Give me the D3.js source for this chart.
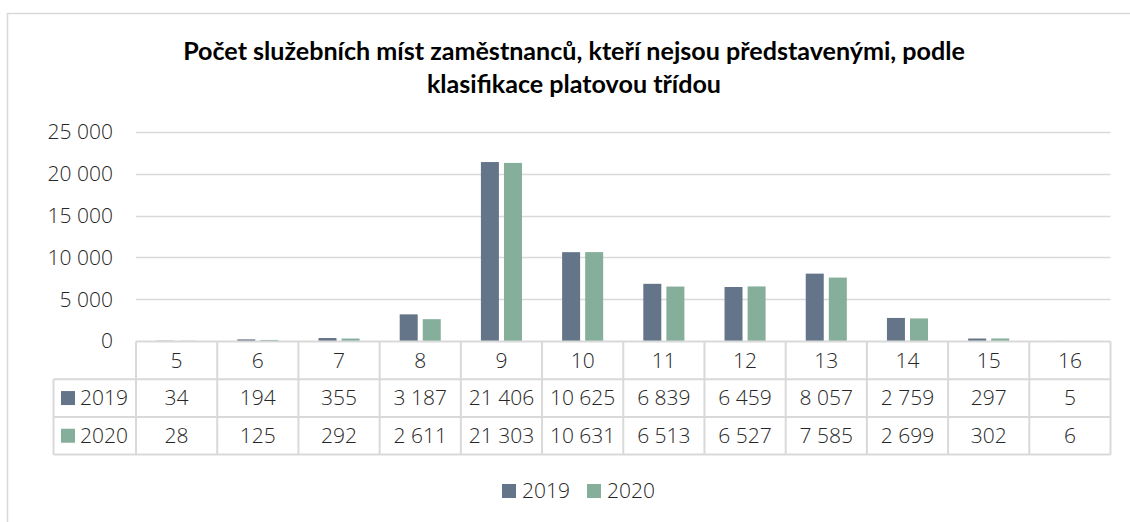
<!DOCTYPE html>
<html>
<head>
<meta charset="utf-8">
<script src="https://cdn.jsdelivr.net/npm/d3@7"></script>
<style>
  body { margin: 0; background: #fff; }
  text { font-family: "Open Sans", Lato, sans-serif; }
</style>
</head>
<body>
<div id="chart"></div>
<script>
var categories = ["5", "6", "7", "8", "9", "10", "11", "12", "13", "14", "15", "16"];
var years = ["2019", "2020"];
var values2019 = [34, 194, 355, 3187, 21406, 10625, 6839, 6459, 8057, 2759, 297, 5];
var values2020 = [28, 125, 292, 2611, 21303, 10631, 6513, 6527, 7585, 2699, 302, 6];
var yTicks = [0, 5000, 10000, 15000, 20000, 25000];
var titleLines = ["Počet služebních míst zaměstnanců, kteří nejsou představenými, podle", "klasifikace platovou třídou"];
var colors = {"2019": "#647489", "2020": "#85ae9b"};

var W = 1130, H = 522;
var labelSize = "21px", labelColor = "#262626";
var svg = d3.select("#chart").append("svg").attr("width", W).attr("height", H);

// chart frame (only top + left edges visible)
svg.append("path").attr("d", "M7.5,522 L7.5,13.5 L1130,13.5")
  .attr("fill", "none").attr("stroke", "#d9d9d9").attr("stroke-width", 1.5);

// title, sized to fit
var title = svg.append("g").attr("font-weight", "bold").attr("fill", "#000");
var t1 = title.append("text").attr("x", 574).attr("y", 60).attr("text-anchor", "middle")
  .style("font-family", "Lato, 'Open Sans', sans-serif").style("font-size", "22px").text(titleLines[0]);
var fs = 22 * 782 / t1.node().getComputedTextLength();
t1.style("font-size", fs + "px");
title.append("text").attr("x", 574).attr("y", 93).attr("text-anchor", "middle")
  .style("font-family", "Lato, 'Open Sans', sans-serif").style("font-size", fs + "px").text(titleLines[1]);

var plotLeft = 136, plotRight = 1110.5, plotTop = 132, zero = 341;
var x = d3.scaleBand().domain(categories).range([plotLeft, plotRight]);
var x1 = d3.scaleBand().domain(years).range([0, x.bandwidth()]).paddingInner(0.22).paddingOuter(0.87);
var y = d3.scaleLinear().domain([0, 25000]).range([zero, plotTop]);

var fmt = function(v) { return d3.format(",")(v).replace(/,/g, " "); };

// gridlines
svg.append("g").selectAll("line").data(yTicks.slice(1)).join("line")
  .attr("x1", plotLeft).attr("x2", plotRight)
  .attr("y1", function(d) { return Math.round(y(d)) + 0.5; })
  .attr("y2", function(d) { return Math.round(y(d)) + 0.5; })
  .attr("stroke", "#d9d9d9").attr("stroke-width", 1.5);

// y axis labels
svg.append("g").selectAll("text").data(yTicks).join("text")
  .attr("x", 113).attr("y", function(d) { return y(d); }).attr("dy", "0.35em")
  .attr("text-anchor", "end").attr("fill", labelColor).style("font-size", labelSize).style("font-weight", 300)
  .text(fmt);

// bars
var series = [values2019, values2020];
years.forEach(function(yr, s) {
  svg.append("g").selectAll("rect").data(series[s]).join("rect")
    .attr("x", function(d, i) { return x(categories[i]) + x1(yr); })
    .attr("width", x1.bandwidth())
    .attr("y", function(d) { return y(d); })
    .attr("height", function(d) { return zero - y(d); })
    .attr("fill", colors[yr]);
});

// data table
var rowH = 37.7, keyLeft = 53.5;
var rows = [zero + 0.5, zero + 0.5 + rowH, zero + 0.5 + 2 * rowH, zero + 0.5 + 3 * rowH];
var tbl = svg.append("g").attr("stroke", "#d9d9d9").attr("stroke-width", 2);
tbl.append("line").attr("x1", plotLeft).attr("x2", plotRight).attr("y1", rows[0]).attr("y2", rows[0]);
rows.slice(1).forEach(function(r) {
  tbl.append("line").attr("x1", keyLeft).attr("x2", plotRight).attr("y1", r).attr("y2", r);
});
categories.concat(["end"]).forEach(function(c, i) {
  var xx = i < categories.length ? x(c) : plotRight;
  tbl.append("line").attr("x1", xx).attr("x2", xx).attr("y1", rows[0]).attr("y2", rows[3]);
});
tbl.append("line").attr("x1", keyLeft).attr("x2", keyLeft).attr("y1", rows[1]).attr("y2", rows[3]);

var cellText = svg.append("g").attr("fill", labelColor).attr("text-anchor", "middle")
  .style("font-size", labelSize).style("font-weight", 300);
cellText.selectAll("text.h").data(categories).join("text").attr("class", "h")
  .attr("x", function(d) { return x(d) + x.bandwidth() / 2; })
  .attr("y", (rows[0] + rows[1]) / 2).attr("dy", "0.35em").text(function(d) { return d; });
series.forEach(function(vals, s) {
  var cy = (rows[s + 1] + rows[s + 2]) / 2;
  cellText.append("g").selectAll("text").data(vals).join("text")
    .attr("x", function(d, i) { return x(categories[i]) + x.bandwidth() / 2; })
    .attr("y", cy).attr("dy", "0.35em").text(fmt);
  svg.append("rect").attr("x", 61).attr("y", cy - 7).attr("width", 14).attr("height", 14)
    .attr("fill", colors[years[s]]);
  svg.append("text").attr("x", 80).attr("y", cy).attr("dy", "0.35em").attr("fill", labelColor)
    .style("font-size", labelSize).style("font-weight", 300).text(years[s]);
});

// legend
var legendX = [502, 587];
years.forEach(function(yr, i) {
  svg.append("rect").attr("x", legendX[i]).attr("y", 484).attr("width", 14).attr("height", 14)
    .attr("fill", colors[yr]);
  svg.append("text").attr("x", legendX[i] + 20).attr("y", 491).attr("dy", "0.35em").attr("fill", labelColor)
    .style("font-size", labelSize).style("font-weight", 300).text(yr);
});
</script>
</body>
</html>
